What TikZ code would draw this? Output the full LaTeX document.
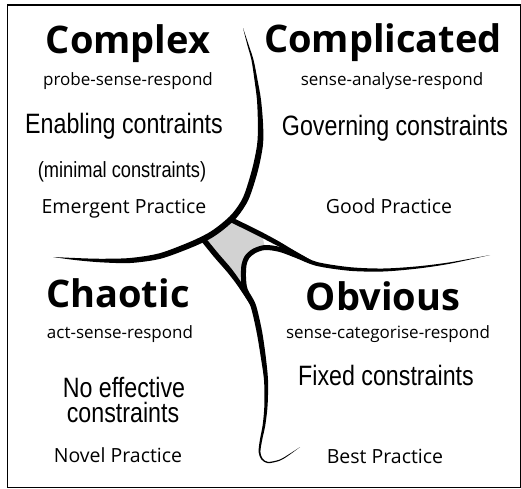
\documentclass[tikz,border=0pt]{standalone}
\usepackage{fontspec}
\newfontfamily\osfont{Open Sans}
\newfontfamily\narrowfont[FakeStretch=0.83]{Liberation Sans}
\definecolor{diamondgray}{RGB}{210,210,210}
\tikzset{
  head/.style={font=\osfont\bfseries\fontsize{38}{40}\selectfont, anchor=base, inner sep=0pt},
  method/.style={font=\osfont\fontsize{17}{19}\selectfont, anchor=base, inner sep=0pt},
  constr/.style={font=\narrowfont\fontsize{28}{30}\selectfont, anchor=base, inner sep=0pt},
  constrsmall/.style={font=\narrowfont\fontsize{22}{24}\selectfont, anchor=base, inner sep=0pt},
  practice/.style={font=\osfont\fontsize{19.5}{21}\selectfont, anchor=base, inner sep=0pt},
  ink/.style={fill=black, draw=none},
  framebox/.style={draw=black, line width=1.3pt},
}
\begin{document}
\begin{tikzpicture}[x=1pt, y=-1pt]
\useasboundingbox (0,0) rectangle (521,488);
\fill[white] (0,0) rectangle (521,488);
\draw[framebox] (7.5,5) -- (520.5,5) -- (520.5,487.5) -- (7.5,487.5) -- cycle;

% grey centre
\fill[diamondgray] (230.3,219.4) -- (247,227.5) -- (262,235) -- (265,247.5) -- (254,251) -- (247,257) -- (244,265) -- (243.5,277) -- (240,283) -- (229,270) -- (216,255) -- (203,239) -- (209,236) -- (222,227) -- cycle;

% Complex boundary (tapered)
\fill[ink] plot[smooth] coordinates {(243,28) (247.4,45.2) (251.5,60.2) (254.5,80.2) (257,100.2) (257.9,125.1) (257.1,144.65) (252.1,169.2) (243.3,196.8) (232.7,213.1) (220.1,224.7) (207.5,233.4) (188.9,242.3) (159.3,253.3) (129.8,258) (100,258.75) (75.1,258) (53,257)}
  -- plot[smooth] coordinates {(53,257) (74.9,260) (100,262.25) (130.2,263) (160.7,258.7) (191.1,247.7) (210.5,238.6) (223.9,229.3) (237.3,216.9) (248.7,199.2) (257.9,170.8) (262.9,145.35) (263.1,124.9) (261,99.8) (257.5,79.8) (253.5,59.8) (248.6,44.8) (243,28)} -- cycle;

% Obvious boundary (tapered)
\fill[ink] plot[smooth] coordinates {(490,255) (449.9,262.3) (416.9,266.4) (383,268.5) (350.2,267.2) (317.5,262.1) (297.8,253.9) (280.6,247.1) (264.9,245) (252.8,248.8) (245,255.6) (241.5,264.6) (241,277.1) (242.4,290.9) (250.4,305.9) (256.3,330.5) (260.5,355.3) (264,380.1) (264.4,404.9) (262.7,424.8) (259.9,439.8) (258.6,452) (261.4,459.5) (268,463.2) (280.2,460.5) (290.2,454.3) (300,447)}
  -- plot[smooth] coordinates {(300,447) (289.8,453.7) (279.8,459.5) (268,461.9) (262.6,458.5) (260.4,452) (262.1,440.2) (265.3,425.2) (267.6,405.1) (268,379.9) (265.5,354.7) (261.7,329.5) (255.6,304.1) (247.6,289.1) (246,276.9) (246.5,265.4) (249,258.5) (255.2,253.2) (265.1,250) (279.4,251.9) (296.2,258.1) (316.5,265.9) (349.8,270.8) (383,271.5) (417.1,268.6) (450.1,263.7) (490,255)} -- cycle;

% upper short line
\fill[ink] plot[smooth] coordinates {(229.2,221.65) (245.9,229.75) (260.85,237.2) (276.9,245.5) (292.3,252.8) (311,260)}
  -- plot[smooth] coordinates {(311,260) (293.7,250.2) (279.1,241.5) (263.15,232.8) (248.1,225.25) (231.4,217.15)} -- cycle;

% lower short line
\fill[ink] plot[smooth] coordinates {(200.9,240.7) (213.9,256.8) (226.9,271.7) (236,283.4) (243.2,294) (251,306)}
  -- plot[smooth] coordinates {(251,306) (246.8,292) (240,280.6) (231.1,268.3) (218.1,253.2) (205.1,237.3)} -- cycle;

% Complex
\node[head] (cx) at (128,53) {Complex};
\node[method] (cxm) at (128,85) {probe-sense-respond};
\node[constr] (cxc) at (124,133) {Enabling contraints};
\node[constrsmall] (cxc2) at (122,177) {(minimal constraints)};
\node[practice] (cxp) at (124,213) {Emergent Practice};
% Complicated
\node[head] (cd) at (383,52) {Complicated};
\node[method] (cdm) at (392,85) {sense-analyse-respond};
\node[constr] (cdc) at (395,135) {Governing constraints};
\node[practice] (cdp) at (389,213) {Good Practice};
% Chaotic
\node[head] (ch) at (118,307) {Chaotic};
\node[method] (chm) at (120,338) {act-sense-respond};
\node[constr] (chc) at (124,397) {No effective};
\node[constr] (chc2) at (123,422.5) {constraints};
\node[practice] (chp) at (118,462) {Novel Practice};
% Obvious
\node[head] (ob) at (383,310) {Obvious};
\node[method] (obm) at (388,338) {sense-categorise-respond};
\node[constr] (obc) at (386,385) {Fixed constraints};
\node[practice] (obp) at (385,463) {Best Practice};
\end{tikzpicture}
\end{document}
